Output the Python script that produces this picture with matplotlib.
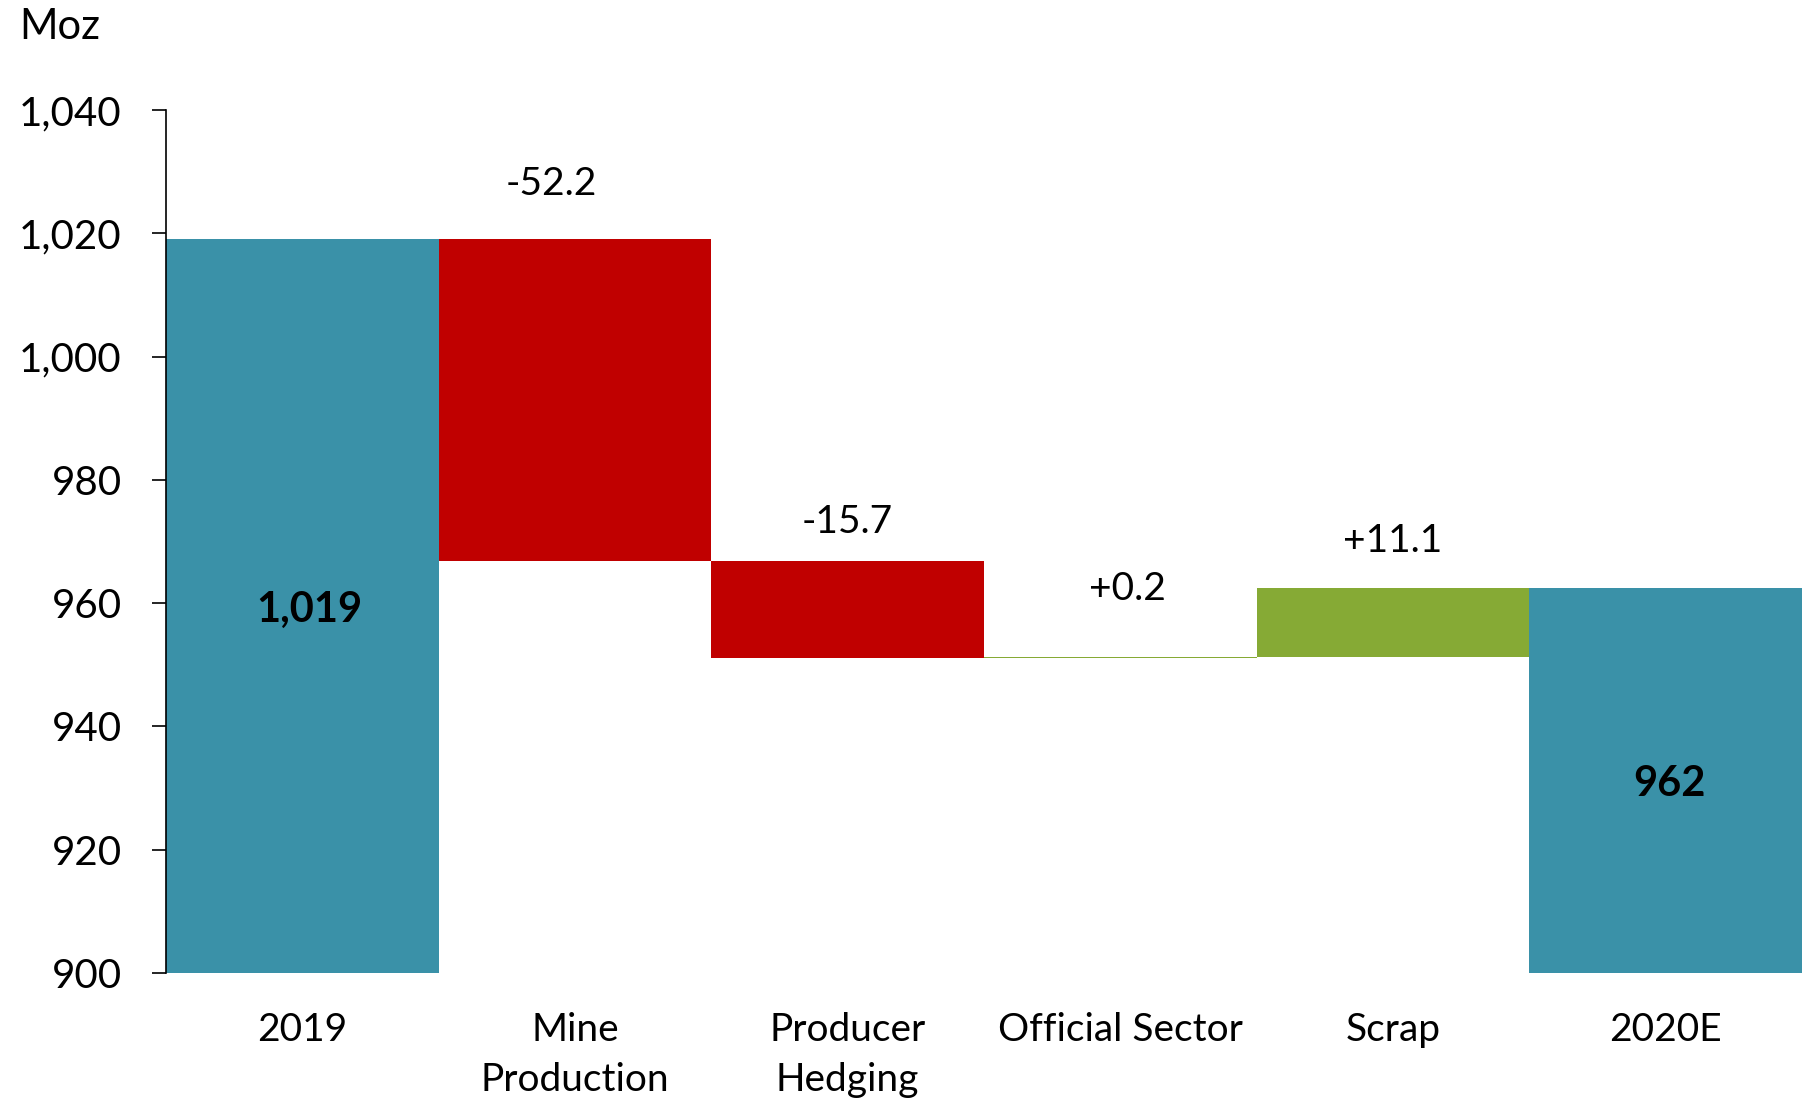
import matplotlib.pyplot as plt
from matplotlib.ticker import FuncFormatter

plt.rcParams['font.family'] = ['Lato', 'DejaVu Sans']

# Data
categories = ['2019', 'Mine\nProduction', 'Producer\nHedging', 'Official Sector', 'Scrap', '2020E']
start_total = 1019.0
changes = [-52.2, -15.7, 0.2, 11.1]

teal = '#3A91A8'
red = '#C00000'
green = '#86AA35'

end_total = start_total + sum(changes)

fig = plt.figure(figsize=(18.10, 11.01), dpi=100)
ax = fig.add_axes([0.0917, 0.1163, 0.9039, 0.7838])

base = 900

# Totals
ax.bar(0, start_total - base, bottom=base, width=1.0, color=teal)
ax.bar(len(categories) - 1, end_total - base, bottom=base, width=1.0, color=teal)

# Floating change bars
# label offsets (points) for the value labels above each step
label_dx = [-17, 0, 5, 0]
label_dy = [40, 28, 49, 34]
level = start_total
for i, c in enumerate(changes):
    x = i + 1
    lo = min(level, level + c)
    ax.bar(x, abs(c), bottom=lo, width=1.0, color=red if c < 0 else green)
    top = max(level, level + c)
    ax.annotate(f'{c:+.1f}', (x, top),
                xytext=(label_dx[i], label_dy[i]), textcoords='offset points',
                ha='center', va='center', fontsize=28)
    level += c

# Total labels inside the bars
ax.text(0.025, (base + start_total) / 2, f'{start_total:,.0f}', ha='center',
        va='center_baseline', fontsize=30, fontweight='bold')
ax.text(len(categories) - 1 + 0.015, (base + end_total) / 2, f'{end_total:,.0f}',
        ha='center', va='center_baseline', fontsize=30, fontweight='bold')

ax.set_xlim(-0.5, len(categories) - 0.5)
ax.set_ylim(900, 1040)
ax.set_yticks(range(900, 1041, 20))
ax.yaxis.set_major_formatter(FuncFormatter(lambda v, p: f'{v:,.0f}'))
ax.tick_params(axis='y', labelsize=29, length=10, width=1.2, pad=22)

ax.set_xticks(range(len(categories)))
ax.set_xticklabels(categories, fontsize=28, linespacing=1.5)
ax.tick_params(axis='x', length=0, pad=28)

for s in ['top', 'right', 'bottom']:
    ax.spines[s].set_visible(False)
ax.spines['left'].set_linewidth(1.2)

fig.text(19 / 1810, 1 - 39 / 1101, 'Moz', fontsize=30, ha='left', va='baseline')

fig.savefig('out.png', dpi=100)
